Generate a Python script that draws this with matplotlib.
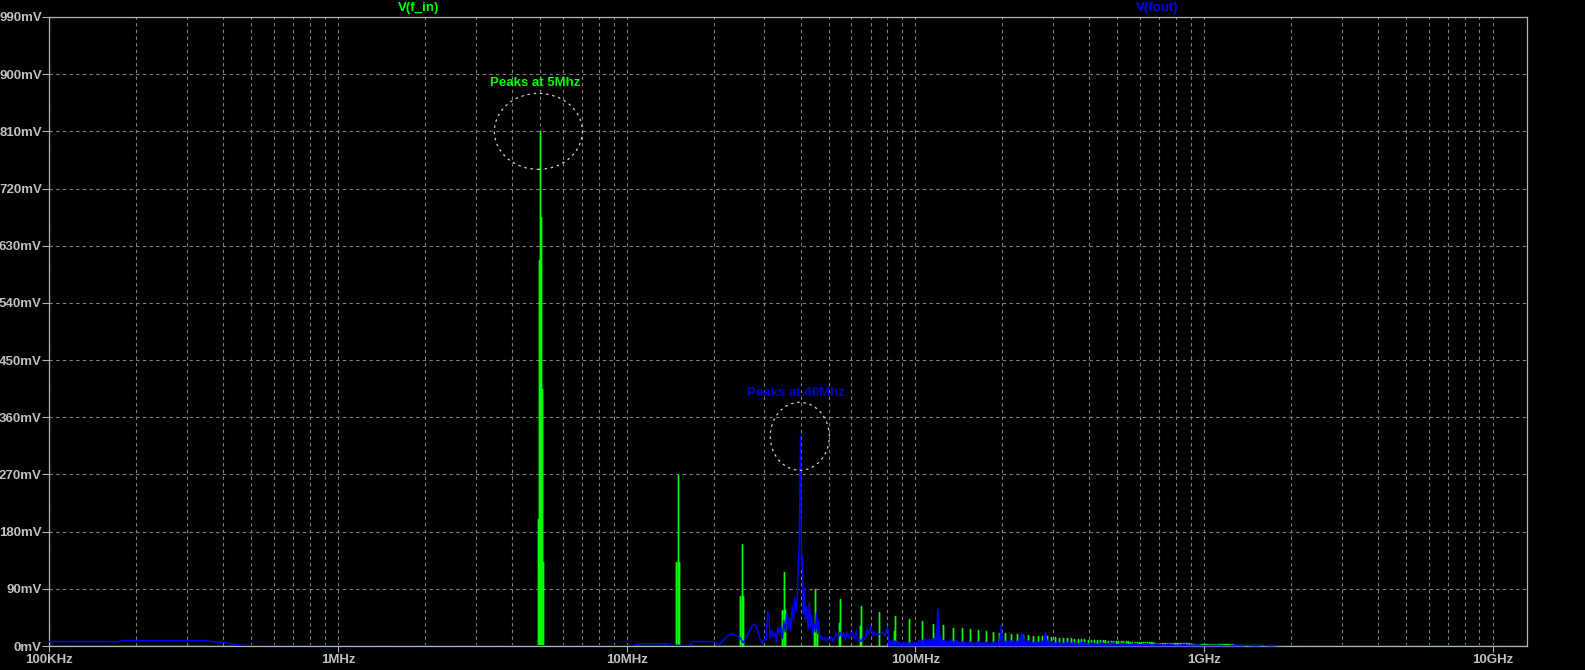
import numpy as np
import matplotlib.pyplot as plt
from matplotlib import transforms
from matplotlib.patches import Ellipse
from matplotlib.ticker import FixedLocator, LogLocator, NullFormatter

plt.rcParams['font.family'] = ['Liberation Sans', 'DejaVu Sans']

# V(f_in): odd harmonics of the 5 MHz square wave (MHz, mV)
green_peak_mhz = [
    5, 15, 25, 35, 45, 55, 65, 75, 85, 95,
    105, 115, 125, 135, 145, 155, 165, 175, 185, 195,
    205, 215, 225, 235, 245, 255, 265, 275, 285, 295,
    305, 315, 325, 335, 345, 355, 365, 375, 385, 395,
    405, 415, 425, 435, 445, 455, 465, 475, 485, 495,
    505, 515, 525, 535, 545, 555, 565, 575, 585, 595,
    605, 615, 625, 635, 645, 655, 665, 675, 685, 695,
    705, 715, 725, 735, 745, 755, 765, 775, 785, 795,
    805, 815, 825, 835, 845, 855, 865, 875, 885, 895,
    905, 915, 925, 935, 945, 955, 965, 975, 985, 995,
    1005, 1015, 1025, 1035, 1045, 1055, 1065, 1075, 1085, 1095,
    1105, 1115, 1125, 1135, 1145, 1155, 1165, 1175, 1185, 1195,
    1205, 1215, 1225, 1235, 1245, 1255, 1265, 1275, 1285, 1295,
    1305, 1315, 1325, 1335, 1345, 1355, 1365, 1375, 1385, 1395,
    1405, 1415, 1425, 1435, 1445, 1455, 1465, 1475, 1485, 1495,
    1505, 1515, 1525, 1535, 1545, 1555, 1565, 1575, 1585, 1595,
]
green_peak_mv = [
    810, 269, 160, 116, 90, 74, 63, 54, 47, 42,
    39, 34, 33, 29, 28, 27, 25, 24, 22, 21,
    20, 19, 19, 18, 17, 16, 16, 15, 15, 14,
    13.5, 13, 12.5, 12, 12, 11.5, 11, 11, 10.5, 10,
    10, 9.8, 9.5, 9.3, 9, 8.8, 8.6, 8.4, 8.2, 8,
    8, 7.8, 7.6, 7.4, 7.2, 7, 6.8, 6.7, 6.5, 6.4,
    6.2, 6.1, 6, 5.9, 5.8, 5.7, 5.6, 5.5, 5.4, 5.3,
    5.2, 5.1, 5, 5, 4.9, 4.8, 4.7, 4.7, 4.6, 4.5,
    4.5, 4.4, 4.3, 4.3, 4.2, 4.2, 4.1, 4, 4, 3.9,
    3.9, 3.8, 3.8, 3.7, 3.7, 3.6, 3.6, 3.5, 3.5, 3.4,
    3.4, 3.3, 3.3, 3.2, 3.2, 3.1, 3.1, 3, 3, 3,
    2.9, 2.9, 2.8, 2.8, 2.8, 2.7, 2.7, 2.6, 2.6, 2.6,
    2.5, 2.5, 2.5, 2.4, 2.4, 2.4, 2.3, 2.3, 2.3, 2.2,
    2.2, 2.2, 2.1, 2.1, 2.1, 2, 2, 2, 2, 1.9,
    1.9, 1.9, 1.8, 1.8, 1.8, 1.8, 1.7, 1.7, 1.7, 1.7,
    1.6, 1.6, 1.6, 1.6, 1.5, 1.5, 1.5, 1.5, 1.4, 1.4,
]
# leakage bins beside the strongest harmonics
green_side_mhz = [4.92, 4.96, 5.04, 5.08, 5.12, 14.82, 15.18, 24.7, 25.3,
                  34.6, 35.4, 44.5, 45.5, 54.4, 64.3, 84.1]
green_side_mv = [200, 607, 675, 405, 132, 132, 132, 79, 79,
                 56, 56, 27, 27, 36, 32, 23]

# V(fout) spectrum (MHz, mV)
blue_mhz = [
    0.1, 0.175, 0.178, 0.355, 0.36, 0.40, 0.43, 0.46, 0.50, 0.6,
    1.0, 2.0, 4.0, 6.0, 8.0, 10.5, 11.0, 13.8, 14.2, 16.5,
    17.0, 19.5, 20.3, 20.8, 21.5, 22.3, 23.0, 23.6, 24.2, 24.8,
    25.3, 26.0, 26.6, 27.2, 27.8, 28.4, 29.0, 29.5, 30.0, 30.4,
    30.8, 31.1, 31.4, 31.8, 32.2, 32.6, 33.0, 33.4, 33.8, 34.2,
    34.6, 35.0, 35.4, 35.8, 36.2, 36.6, 37.0, 37.4, 37.8, 38.2,
    38.6, 39.0, 39.3, 39.6, 40.0, 40.3, 40.6, 40.9, 41.2, 41.6,
    42.0, 42.5, 42.9, 43.3, 43.7, 44.1, 44.5, 45.0, 45.4, 45.8,
    46.2, 46.7, 47.2, 47.8, 48.4, 49.0, 49.7, 50.4, 51.1, 51.8,
    52.5, 53.2, 54.0, 54.8, 55.6, 56.4, 57.2, 58.0, 58.8, 59.6,
    60.5, 61.4, 62.3, 63.2, 64.1, 65.0, 66.0, 67.0, 68.0, 69.0,
    70.0, 71.0, 72.0, 73.0, 74.0, 75.5, 77.0, 78.5, 80.0, 81.0,
    82.0, 83.0, 84.0, 85.0, 86.0, 87.0, 88.0, 89.5, 91.0, 93.0,
    95.0, 97.0, 99.0, 101, 103, 105, 107, 109, 111, 113,
    115, 117, 118.5, 119.5, 121, 123, 126, 129, 132, 135,
    138, 142, 146, 150, 155, 160, 165, 170, 175, 180,
    186, 192, 196, 198, 200, 204, 208, 213, 218, 222,
    228, 234, 240, 247, 254, 262, 270, 278, 282, 286,
    294, 303, 312, 322, 332, 343, 355, 367, 380, 395,
    410, 425, 440, 460, 480, 500, 525, 550, 575, 600,
    630, 660, 690, 720, 760, 800, 850, 900, 950, 1000,
    1100, 1200, 1300, 1400, 1500, 1600, 1700, 1800, 1900, 20000,
]
blue_mv = [
    7, 7, 8.5, 8.5, 7, 6, 3, 1.5, 0.5, 0.3,
    0.3, 0.2, 0.3, 0.2, 0.3, 0.5, 3.5, 3.5, 1, 1,
    7, 7, 6, 1, 8, 16, 19, 18, 15, 12,
    5, 14, 24, 32, 35, 24, 10, 4, 12, 9,
    54, 48, 12, 25, 14, 22, 6, 30, 18, 30,
    12, 40, 22, 52, 28, 45, 24, 62, 40, 75,
    55, 80, 130, 162, 330, 125, 142, 50, 90, 40,
    62, 25, 69, 30, 48, 18, 35, 22, 53, 20,
    41, 12, 16, 10, 14, 8, 13, 9, 15, 7,
    14, 20, 12, 22, 14, 21, 10, 22, 12, 20,
    22, 12, 24, 8, 10, 7, 16, 10, 26, 20,
    30, 18, 22, 16, 20, 18, 22, 16, 30, 9,
    6, 9, 5, 8, 4, 7, 5, 3, 6, 4,
    5, 3, 6, 4, 9, 6, 11, 7, 10, 8,
    12, 8, 20, 58, 20, 7, 9, 5, 10, 6,
    9, 5, 7, 4, 6, 3, 7, 4, 6, 3,
    6, 4, 7, 33, 8, 5, 9, 6, 9, 5,
    8, 20, 6, 8, 4, 7, 5, 8, 21, 6,
    7, 4, 6, 3, 6, 4, 5, 3, 6, 3,
    5, 2, 5, 3, 5, 2, 4, 2, 4, 2,
    4, 1.5, 3.5, 1.5, 3, 1, 2.5, 1, 2, 0.5,
    1.5, 0.5, 1.5, 0.3, 1, 0.3, 1, 0.2, 0, 0,
]

x_ticks_hz = [1e5, 1e6, 1e7, 1e8, 1e9, 1e10]
x_tick_labels = ['100KHz', '1MHz', '10MHz', '100MHz', '1GHz', '10GHz']
y_ticks_mv = list(range(0, 991, 90))

F_MIN, F_MAX = 1e5, 1.315e10
GREEN = '#00ff00'
BLUE = '#0000ff'
LABEL = '#c0c0c0'

fig = plt.figure(figsize=(15.85, 6.70), dpi=100, facecolor='black')
ax = fig.add_axes([0.03123, 0.03582, 0.93218, 0.93881], facecolor='black')

# green trace: each bin drawn as a spike from the zero line
gf = np.array(green_peak_mhz + green_side_mhz) * 1e6
gv = np.array(green_peak_mv + green_side_mv)
order = np.argsort(gf)
gf, gv = gf[order], gv[order]
gx = np.r_[F_MIN, np.repeat(gf, 3), F_MAX]
gy = np.r_[0, np.column_stack([np.zeros_like(gv), gv, np.zeros_like(gv)]).ravel(), 0]
ax.plot(gx, gy, color=GREEN, lw=1.0, zorder=3)

bf = np.array(blue_mhz) * 1e6
bv = np.array(blue_mv)
ax.fill_between(bf, 0, bv, where=bf >= 80e6, color=BLUE, lw=0, zorder=4)
ax.plot(bf, bv, color=BLUE, lw=1.0, zorder=4)

ax.set_xscale('log')
ax.set_xlim(F_MIN, F_MAX)
ax.set_ylim(0, 990)
ax.xaxis.set_major_locator(FixedLocator(x_ticks_hz))
ax.set_xticklabels(x_tick_labels)
ax.xaxis.set_minor_locator(LogLocator(base=10, subs=np.arange(2, 10)))
ax.xaxis.set_minor_formatter(NullFormatter())
ax.set_yticks(y_ticks_mv)
ax.set_yticklabels([f'{v}mV' for v in y_ticks_mv])

ax.tick_params(axis='both', which='major', colors='#b4b4b4', labelcolor=LABEL,
               labelsize=9.5, width=0.8)
ax.tick_params(axis='x', which='major', length=4, pad=1.5)
ax.tick_params(axis='y', which='major', length=5, pad=0.5)
ax.tick_params(axis='x', which='minor', length=0)
for lab in ax.get_xticklabels() + ax.get_yticklabels():
    lab.set_fontweight('bold')

grid_kw = dict(color='#808080', lw=0.8, linestyle=(0, (3, 3)))
ax.grid(True, axis='x', which='both', **grid_kw)
ax.grid(True, axis='y', which='major', **grid_kw)
ax.set_axisbelow(True)

for side in ['left', 'top', 'right', 'bottom']:
    ax.spines[side].set_color('#b4b4b4')
    ax.spines[side].set_linewidth(0.9)

ax.text(0.25, 1.014, 'V(f_in)', transform=ax.transAxes, ha='center', va='center',
        color=GREEN, fontsize=9.5, fontweight='bold')
ax.text(0.75, 1.014, 'V(fout)', transform=ax.transAxes, ha='center', va='center',
        color=BLUE, fontsize=9.5, fontweight='bold')

# annotations with dashed circles (sizes in inches)
notes = [
    ('Peaks at 5Mhz', 4.81e6, 886, 4.94e6, 810, 0.88, 0.76, GREEN),
    ('Peaks at 40Mhz', 38.7e6, 398, 39.76e6, 330, 0.59, 0.68, '#0000c8'),
]
for txt, tx, ty, cx, cy, w, h, col in notes:
    ax.text(tx, ty, txt, ha='center', va='center', color=col, fontsize=9.5,
            fontweight='bold', zorder=6)
    tr = fig.dpi_scale_trans + transforms.ScaledTranslation(cx, cy, ax.transData)
    ax.add_patch(Ellipse((0, 0), w, h, transform=tr, fill=False, edgecolor='#d0d0d0',
                         lw=0.9, linestyle=(0, (2, 3)), zorder=6, clip_on=False))

fig.savefig('out.png', dpi=100, facecolor='black')
